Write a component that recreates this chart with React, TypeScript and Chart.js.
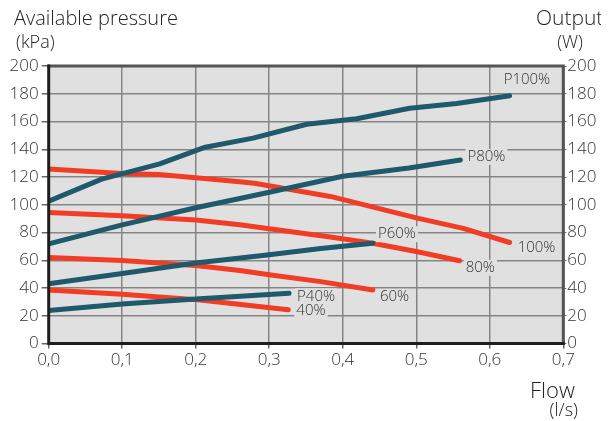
import React, { useEffect, useRef } from "react";
import { Chart, registerables } from "chart.js";

Chart.register(...registerables);

const flowTicks = [0, 0.1, 0.2, 0.3, 0.4, 0.5, 0.6, 0.7];

const flowP100 = [0, 0.072, 0.151, 0.213, 0.278, 0.351, 0.419, 0.491, 0.555, 0.627];
const outP100 = [102.5, 118.5, 129.5, 141.5, 148, 158, 162, 169.5, 173, 178.5];

const flowP80 = [0, 0.1, 0.2, 0.26, 0.3, 0.4, 0.49, 0.56];
const outP80 = [71.8, 85.5, 97.8, 104.5, 109, 120.5, 126.5, 132.3];

const flowP60 = [0, 0.1, 0.2, 0.3, 0.37, 0.441];
const outP60 = [43, 50.5, 58, 64, 68.5, 72.3];

const flowP40 = [0, 0.1, 0.2, 0.327];
const outP40 = [23.8, 28.5, 32, 36.2];

const flow100 = [0, 0.1, 0.15, 0.2, 0.26, 0.28, 0.35, 0.383, 0.5, 0.564, 0.627];
const press100 = [125.8, 122.5, 121.8, 119.5, 116.5, 115.5, 109, 106, 90.5, 83, 72.8];

const flow80 = [0, 0.1, 0.2, 0.26, 0.3, 0.383, 0.441, 0.5, 0.559];
const press80 = [94.5, 92, 89, 85.6, 82.7, 76.7, 72.3, 66.3, 59.6];

const flow60 = [0, 0.1, 0.2, 0.26, 0.3, 0.37, 0.441];
const press60 = [62, 59.8, 56.2, 52.6, 49.5, 44.6, 38.6];

const flow40 = [0, 0.1, 0.206, 0.326];
const press40 = [38.6, 35.5, 31.4, 24.3];

const seriesLabels = ["P100%", "P80%", "P60%", "P40%", "100%", "80%", "60%", "40%"];

const TEAL = "#1f596c";
const RED = "#f23d24";
const BG = "#e0e0e0";
const TEXT = "#333333";
const FONT = "'Open Sans', 'Noto Sans', sans-serif";

const zip = (xs: number[], ys: number[]) => xs.map((x, i) => ({ x, y: ys[i] }));

// label offsets relative to each series' last point (px)
const labelOffsets: Record<string, [number, number]> = {
  "P100%": [-6, -16],
  "P80%": [7, -3],
  "P60%": [5, -9],
  "P40%": [8, 3],
  "100%": [8, 5],
  "80%": [6, 7],
  "60%": [7, 7],
  "40%": [8, 1],
};

const bgPlugin = {
  id: "bgPlugin",
  beforeDraw(chart: any) {
    const { ctx, chartArea: a } = chart;
    ctx.save();
    ctx.fillStyle = BG;
    ctx.fillRect(a.left, a.top, a.right - a.left, a.bottom - a.top);
    ctx.restore();
  },
  afterDatasetsDraw(chart: any) {
    const { ctx, chartArea: a } = chart;
    ctx.save();
    // series labels with background boxes
    ctx.font = `300 15px ${FONT}`;
    ctx.textBaseline = "middle";
    ctx.textAlign = "left";
    chart.data.datasets.forEach((ds: any, i: number) => {
      const meta = chart.getDatasetMeta(i);
      const last = meta.data[meta.data.length - 1];
      const [dx, dy] = labelOffsets[ds.label];
      const tx = last.x + dx;
      const ty = last.y + dy;
      const w = ctx.measureText(ds.label).width;
      ctx.fillStyle = BG;
      ctx.fillRect(tx - 2, ty - 8, w + 4, 16);
      ctx.fillStyle = TEXT;
      ctx.fillText(ds.label, tx, ty);
    });
    // frame
    ctx.lineCap = "square";
    ctx.lineWidth = 3;
    ctx.strokeStyle = "#555555";
    ctx.beginPath();
    ctx.moveTo(a.left, a.top);
    ctx.lineTo(a.right, a.top);
    ctx.lineTo(a.right, a.bottom);
    ctx.stroke();
    ctx.strokeStyle = "#1e1e1e";
    ctx.beginPath();
    ctx.moveTo(a.left, a.top);
    ctx.lineTo(a.left, a.bottom);
    ctx.lineTo(a.right, a.bottom);
    ctx.stroke();
    // axis titles
    ctx.fillStyle = "#222222";
    ctx.textBaseline = "alphabetic";
    ctx.font = `300 20px ${FONT}`;
    ctx.textAlign = "left";
    ctx.fillText("Available pressure", 14, 25);
    ctx.font = `300 22px ${FONT}`;
    ctx.fillText("Flow", 530, 398);
    ctx.save();
    ctx.beginPath();
    ctx.rect(500, 0, 101, 40);
    ctx.clip();
    ctx.font = `300 21px ${FONT}`;
    ctx.fillText("Output", 536, 25);
    ctx.restore();
    ctx.font = `300 18px ${FONT}`;
    ctx.fillText("(kPa)", 16, 48);
    ctx.textAlign = "right";
    ctx.fillText("(W)", 583, 48);
    ctx.fillText("(l/s)", 578, 416);
    ctx.restore();
  },
};

export default function App() {
  const ref = useRef<HTMLCanvasElement | null>(null);
  useEffect(() => {
    if (!ref.current) return;
    const mk = (label: string, xs: number[], ys: number[], color: string, axis: string) => ({
      label,
      data: zip(xs, ys),
      borderColor: color,
      backgroundColor: color,
      borderWidth: 5,
      borderCapStyle: "round" as const,
      borderJoinStyle: "round" as const,
      pointRadius: 0,
      tension: 0,
      yAxisID: axis,
    });
    const tickFont = { family: FONT, size: 17, weight: "300" };
    const chart = new Chart(ref.current, {
      type: "line",
      data: {
        datasets: [
          mk(seriesLabels[0], flowP100, outP100, TEAL, "y2"),
          mk(seriesLabels[1], flowP80, outP80, TEAL, "y2"),
          mk(seriesLabels[2], flowP60, outP60, TEAL, "y2"),
          mk(seriesLabels[3], flowP40, outP40, TEAL, "y2"),
          mk(seriesLabels[4], flow100, press100, RED, "y"),
          mk(seriesLabels[5], flow80, press80, RED, "y"),
          mk(seriesLabels[6], flow60, press60, RED, "y"),
          mk(seriesLabels[7], flow40, press40, RED, "y"),
        ],
      },
      plugins: [bgPlugin],
      options: {
        responsive: false,
        animation: false,
        events: [],
        layout: { padding: { top: 66, left: 0, right: 0, bottom: 0 } },
        plugins: { legend: { display: false }, tooltip: { enabled: false } },
        scales: {
          x: {
            type: "linear",
            min: 0,
            max: 0.7,
            afterBuildTicks: (s: any) => {
              s.ticks = flowTicks.map((v) => ({ value: v }));
            },
            afterFit: (s: any) => {
              s.height = 77.5;
            },
            border: { display: false },
            grid: { color: "#858585", lineWidth: 1.5, tickLength: 5, tickColor: "#666666" },
            ticks: {
              color: TEXT,
              font: tickFont,
              padding: 1,
              maxRotation: 0,
              autoSkip: false,
              callback: (v: any) => Number(v).toFixed(1).replace(".", ","),
            },
          },
          y: {
            type: "linear",
            position: "left",
            min: 0,
            max: 200,
            afterFit: (s: any) => {
              s.width = 48.7;
            },
            border: { display: false },
            grid: { color: "#858585", lineWidth: 1.5, tickLength: 7, tickColor: "#666666" },
            ticks: { stepSize: 20, color: TEXT, font: tickFont, padding: 3 },
          },
          y2: {
            type: "linear",
            position: "right",
            min: 0,
            max: 200,
            afterFit: (s: any) => {
              s.width = 50.7;
            },
            border: { display: false },
            grid: { drawOnChartArea: false, tickLength: 3, tickColor: "#666666" },
            ticks: { stepSize: 20, color: TEXT, font: tickFont, padding: 1 },
          },
        },
      },
    } as any);
    return () => chart.destroy();
  }, []);
  return (
    <div style={{ position: "fixed", left: 0, top: 0, width: 614, height: 421 }}>
      <canvas ref={ref} width={614} height={421} style={{ width: 614, height: 421, display: "block" }} />
    </div>
  );
}
